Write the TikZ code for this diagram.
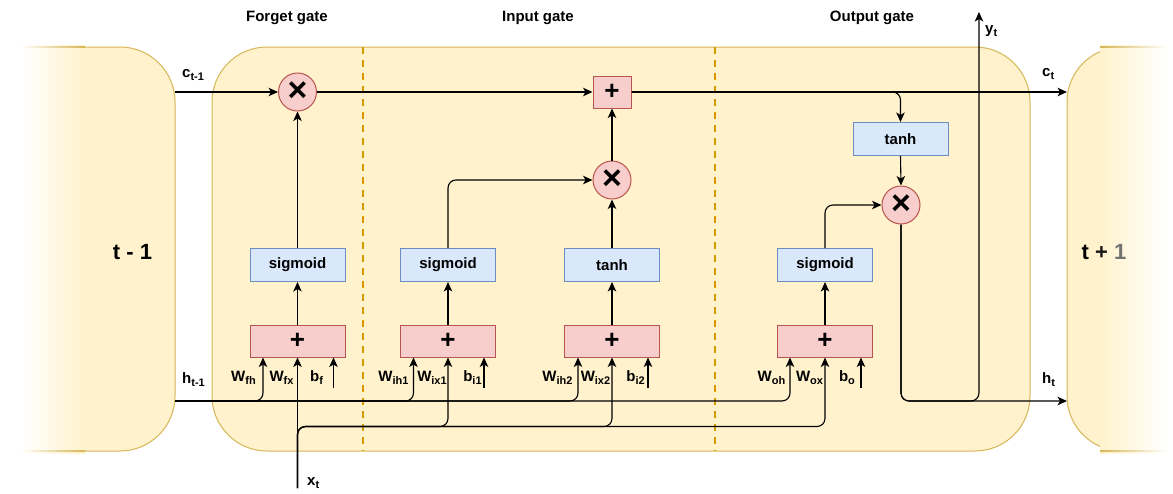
\documentclass[tikz,border=0pt]{standalone}
\usepackage{fontspec}
\setmainfont{Liberation Sans}
\usetikzlibrary{arrows.meta,calc}
\definecolor{panelfill}{HTML}{FFF2CC}
\definecolor{panelline}{HTML}{D6B656}
\definecolor{pinkfill}{HTML}{F8CECC}
\definecolor{pinkline}{HTML}{B85450}
\definecolor{bluefill}{HTML}{DAE8FC}
\definecolor{blueline}{HTML}{6C8EBF}
\definecolor{dashcol}{HTML}{D79B00}
\newcommand\mysub[1]{\raisebox{-3.5pt}{\fontsize{11}{11}\selectfont #1}}
\begin{document}
\begin{tikzpicture}[x=1pt,y=-1pt,
  lbl/.style={font=\bfseries\fontsize{15}{18}\selectfont, inner sep=0},
  big/.style={font=\bfseries\fontsize{22}{26}\selectfont, inner sep=0},
  actbox/.style={draw=blueline, fill=bluefill, line width=1pt, minimum width=95, minimum height=33, inner sep=0, font=\bfseries\fontsize{15}{18}\selectfont},
  sumbox/.style={draw=pinkline, fill=pinkfill, line width=1pt, minimum width=95, minimum height=32, inner sep=0, font=\bfseries\fontsize{26}{26}\selectfont},
  sumsq/.style={draw=pinkline, fill=pinkfill, line width=1pt, minimum width=38, minimum height=32, inner sep=0, font=\bfseries\fontsize{26}{26}\selectfont},
  mulnode/.style={circle, draw=pinkline, fill=pinkfill, line width=1pt, minimum size=38, inner sep=0, font=\bfseries\fontsize{34}{34}\selectfont},
  arr/.style={-{Stealth[length=9.5pt,width=8.5pt,inset=2.5pt]}, line width=1.1pt, draw=black},
  gatesep/.style={draw=dashcol, line width=2.6pt, dash pattern=on 7pt off 6pt},
  panel/.style={draw=panelline, fill=panelfill, line width=1pt, rounded corners=55}
]
\useasboundingbox (0,0) rectangle (1173,493);
\fill[white] (0,0) rectangle (1173,493);

% left panel (t-1)
\path[panel] (-80,47) rectangle (175,451);
\fill[white] (-90,40) rectangle (20,460);
\shade[left color=white, right color=panelfill] (20,45) rectangle (85,453);
\shade[left color=white, right color=panelline] (20,46.5) rectangle (85,47.5);
\shade[left color=white, right color=panelline] (20,450.5) rectangle (85,451.5);

% right panel (t+1)
\path[panel] (1067,47) rectangle (1260,451);
\shade[left color=panelfill, right color=white] (1100,45) rectangle (1168,453);
\shade[left color=panelline, right color=white] (1100,46.5) rectangle (1168,47.5);
\shade[left color=panelline, right color=white] (1100,450.5) rectangle (1168,451.5);
\fill[white] (1168,40) rectangle (1270,460);

% main cell
\path[panel] (212,47) rectangle (1030,451);
\draw[gatesep] (363,47) -- (363,451);
\draw[gatesep] (715,47) -- (715,451);

% titles
\node[lbl, anchor=base] (tf) at (287,21) {Forget gate};
\node[lbl, anchor=base] (tin) at (538,21) {Input gate};
\node[lbl, anchor=base] (tout) at (872,21) {Output gate};
\node[big, anchor=base] (tm1) at (132.5,259) {t - 1};
\node[big, anchor=base] (tp1) at (1104,259) {t {\color{black!90}+} {\color{black!55}1}};

% forget gate
\node[mulnode] (fx) at (297.5,92) {×};
\node[actbox] (sf) at (297.5,265) {sigmoid};
\node[sumbox] (pf) at (297.5,341) {+};

% input gate
\node[actbox] (si) at (448,265) {sigmoid};
\node[sumbox] (pi) at (448,341) {+};
\node[actbox] (ti) at (612,265) {tanh};
\node[sumbox] (pj) at (612,341) {+};
\node[mulnode] (ix) at (612,180) {×};
\node[sumsq] (addc) at (612,92) {+};

% output gate
\node[actbox] (to) at (900.5,139) {tanh};
\node[mulnode] (ox) at (901,205) {×};
\node[actbox] (so) at (825,265) {sigmoid};
\node[sumbox] (po) at (825,341) {+};

% free ends
\coordinate (cin) at (175,92);
\coordinate (cout) at (1067,92);
\coordinate (hin) at (175,401);
\coordinate (hout) at (1067,401);
\coordinate (xin) at (297.5,488);
\coordinate (ycorner) at (979,401);
\coordinate (ytop) at (979,12);
\coordinate (bf0) at (333.5,388);
\coordinate (bi0) at (484,388);
\coordinate (bj0) at (648,388);
\coordinate (bo0) at (861,388);

% cell state
\draw[arr] (cin) -- (fx.west);
\draw[arr] (fx.east) -- (addc.west);
\draw[arr] (addc.east) -- (cout);
\draw[arr, rounded corners=8] (addc.east) -| (to.north);

% forget internals
\draw[arr] (pf.north) -- (sf.south);
\draw[arr] (sf.north) -- (fx.south);

% input internals
\draw[arr] (pi.north) -- (si.south);
\draw[arr] (pj.north) -- (ti.south);
\draw[arr, rounded corners=8] (si.north) |- (ix.west);
\draw[arr] (ti.north) -- (ix.south);
\draw[arr] (ix.north) -- (addc.south);

% output internals
\draw[arr] (po.north) -- (so.south);
\draw[arr, rounded corners=8] (so.north) |- (ox.west);
\draw[arr] (to.south) -- (ox.north);
\draw[arr, rounded corners=8] (ox.south) |- (hout);
\draw[arr, rounded corners=8] (ox.south) |- (ycorner) -- (ytop);

% h_{t-1} inputs
\draw[arr, rounded corners=8] (hin) -| ($(pf.south)+(-34.5,0)$);
\draw[arr, rounded corners=8] (hin) -| ($(pi.south)+(-34.5,0)$);
\draw[arr, rounded corners=8] (hin) -| ($(pj.south)+(-34,0)$);
\draw[arr, rounded corners=8] (hin) -| ($(po.south)+(-35,0)$);

% x_t inputs
\draw[arr] (xin) -- (pf.south);
\draw[arr, rounded corners=8] (xin) |- ($(pi.south)+(0,69)$) -- (pi.south);
\draw[arr, rounded corners=8] (xin) |- ($(pj.south)+(0,69)$) -- (pj.south);
\draw[arr, rounded corners=8] (xin) |- ($(po.south)+(0,69)$) -- (po.south);

% biases
\draw[arr] (bf0) -- (bf0 |- pf.south);
\draw[arr] (bi0) -- (bi0 |- pi.south);
\draw[arr] (bj0) -- (bj0 |- pj.south);
\draw[arr] (bo0) -- (bo0 |- po.south);

% labels
\node[lbl, anchor=base west] (lc0) at (182,77) {c\mysub{t-1}};
\node[lbl, anchor=base west] (lh0) at (182,383) {h\mysub{t-1}};
\node[lbl, anchor=base west] (lx) at (307,485) {x\mysub{t}};
\node[lbl, anchor=base west] (lc1) at (1042,76) {c\mysub{t}};
\node[lbl, anchor=base west] (lh1) at (1042,383) {h\mysub{t}};
\node[lbl, anchor=base west] (ly) at (985,33) {y\mysub{t}};

\node[lbl, anchor=base] (wfh) at (243.5,381) {W\mysub{fh}};
\node[lbl, anchor=base] (wfx) at (281.5,381) {W\mysub{fx}};
\node[lbl, anchor=base] (lbf) at (316.5,381) {b\mysub{f}};
\node[lbl, anchor=base] (wih1) at (393.5,381) {W\mysub{ih1}};
\node[lbl, anchor=base] (wix1) at (432,381) {W\mysub{ix1}};
\node[lbl, anchor=base] (lbi1) at (472.5,381) {b\mysub{i1}};
\node[lbl, anchor=base] (wih2) at (557.5,381) {W\mysub{ih2}};
\node[lbl, anchor=base] (wix2) at (595.5,381) {W\mysub{ix2}};
\node[lbl, anchor=base] (lbi2) at (635.5,381) {b\mysub{i2}};
\node[lbl, anchor=base] (woh) at (771.5,381) {W\mysub{oh}};
\node[lbl, anchor=base] (wox) at (809.5,381) {W\mysub{ox}};
\node[lbl, anchor=base] (lbo) at (847,381) {b\mysub{o}};
\end{tikzpicture}
\end{document}
